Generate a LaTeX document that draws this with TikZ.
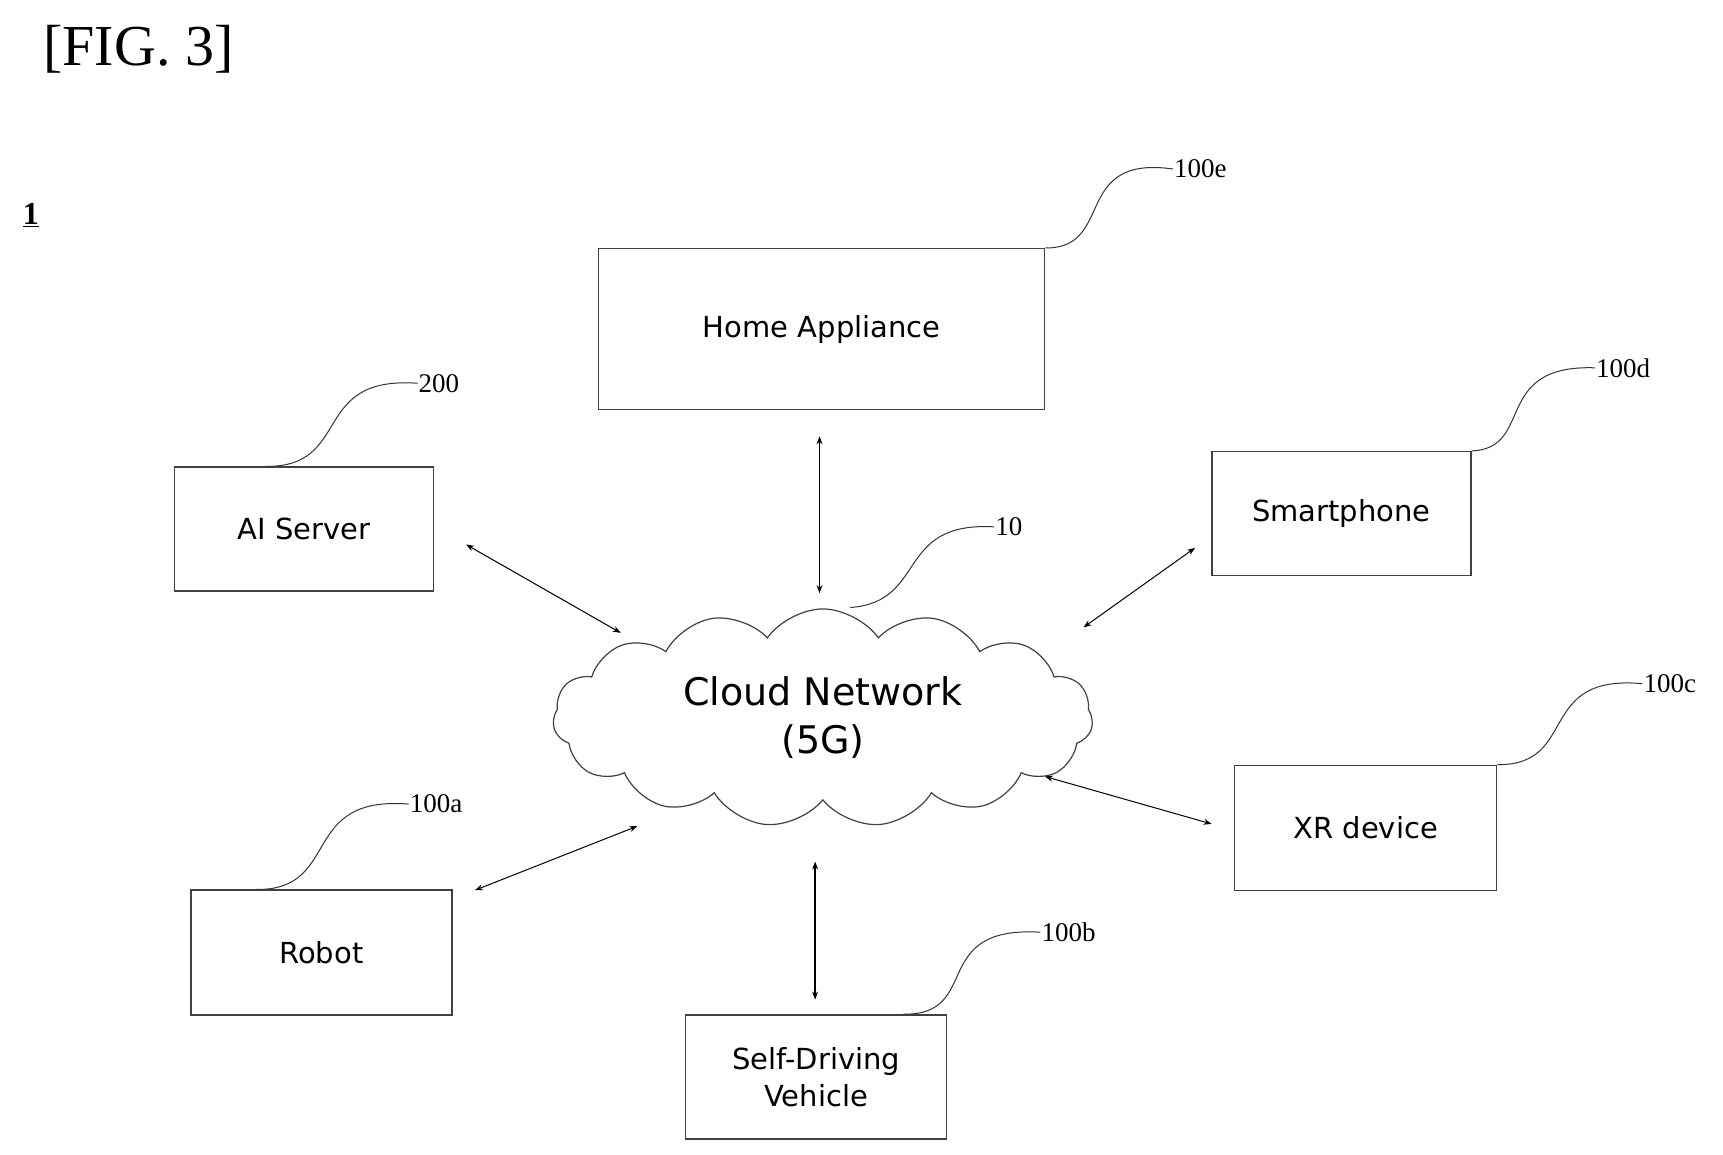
\documentclass[tikz,border=0pt]{standalone}
\usepackage{fontspec}
\setmainfont{Liberation Serif}
\newfontfamily\boxfont{DejaVu Sans}
\usetikzlibrary{shapes.symbols,arrows.meta}
\begin{document}
\begin{tikzpicture}[x=1.1045pt,y=-1.1045pt,
  box/.style={draw=black!75,line width=1.3pt,inner sep=0pt,font=\boxfont\fontsize{29}{37}\selectfont,align=center},
  lab/.style={font=\fontsize{27}{30}\selectfont,anchor=west,inner sep=1pt},
  lead/.style={line width=1pt,black!80},
  arr/.style={line width=1pt,{Stealth[length=8pt,width=6pt]}-{Stealth[length=8pt,width=6pt]}}]
\useasboundingbox (0,0) rectangle (1560,1045.7);
\node[anchor=west,font=\fontsize{58}{66}\selectfont] (fig) at (36,45) {[FIG. 3]};
\node[font=\bfseries\fontsize{32}{36}\selectfont] (one) at (28,195) {\underline{1}};
\node[box,minimum width=446pt,minimum height=161pt] (home) at (744,298) {Home Appliance};
\node[box,minimum width=259pt,minimum height=124pt] (ai) at (275.5,479) {AI Server};
\node[box,minimum width=259pt,minimum height=124pt] (phone) at (1214.5,465) {Smartphone};
\node[box,minimum width=262pt,minimum height=125pt] (xr) at (1236.5,749.5) {XR device};
\node[box,minimum width=261pt,minimum height=125pt] (robot) at (291,862.5) {Robot};
\node[box,minimum width=261pt,minimum height=124pt] (sdv) at (739,975) {Self-Driving\\Vehicle};
\node[cloud,draw=black!75,line width=1.2pt,cloud puffs=15,cloud puff arc=110,aspect=2.6,minimum width=540pt,minimum height=218pt,inner sep=0pt,font=\boxfont\fontsize{38}{48}\selectfont,align=center] (cloud) at (745,650) {Cloud Network\\(5G)};
\node[lab] (l10) at (900,477) {10};
\node[lab] (le) at (1062,153) {100e};
\node[lab] (l200) at (378,347) {200};
\node[lab] (ld) at (1444,333) {100d};
\node[lab] (lc) at (1487,619) {100c};
\node[lab] (la) at (370,728) {100a};
\node[lab] (lb) at (942,844) {100b};
\draw[lead] (home.north east) .. controls (1010,225) and (970,140) .. (le.west);
\draw[lead] (ai.north) ++(-35,0) coordinate (aiN) .. controls (320,423) and (280,340) .. (l200.west);
\draw[lead] (phone.north east) .. controls (1390,406) and (1350,330) .. (ld.west);
\draw[lead] (xr.north east) .. controls (1430,693) and (1390,610) .. (lc.west);
\draw[lead] (robot.north) ++(-59,0) coordinate (rN) .. controls (310,806) and (270,720) .. (la.west);
\draw[lead] (sdv.north) ++(79,0) coordinate (sN) .. controls (890,919) and (840,838) .. (lb.west);
\draw[lead] (770,550) coordinate (cN) .. controls (840,545) and (810,472) .. (l10.west);
\coordinate (h1) at (742,395); \coordinate (h2) at (742,537);
\draw[arr] (h1) -- (h2);
\coordinate (a1) at (422,493); \coordinate (a2) at (562,573);
\draw[arr] (a1) -- (a2);
\coordinate (p1) at (1082,496); \coordinate (p2) at (981,568);
\draw[arr] (p1) -- (p2);
\coordinate (x1) at (946,703); \coordinate (x2) at (1097,746);
\draw[arr] (x1) -- (x2);
\coordinate (r1) at (430,806); \coordinate (r2) at (577,748);
\draw[arr] (r1) -- (r2);
\coordinate (v1) at (738,780); \coordinate (v2) at (738,905);
\draw[arr,line width=1.6pt] (v1) -- (v2);
\end{tikzpicture}
\end{document}
